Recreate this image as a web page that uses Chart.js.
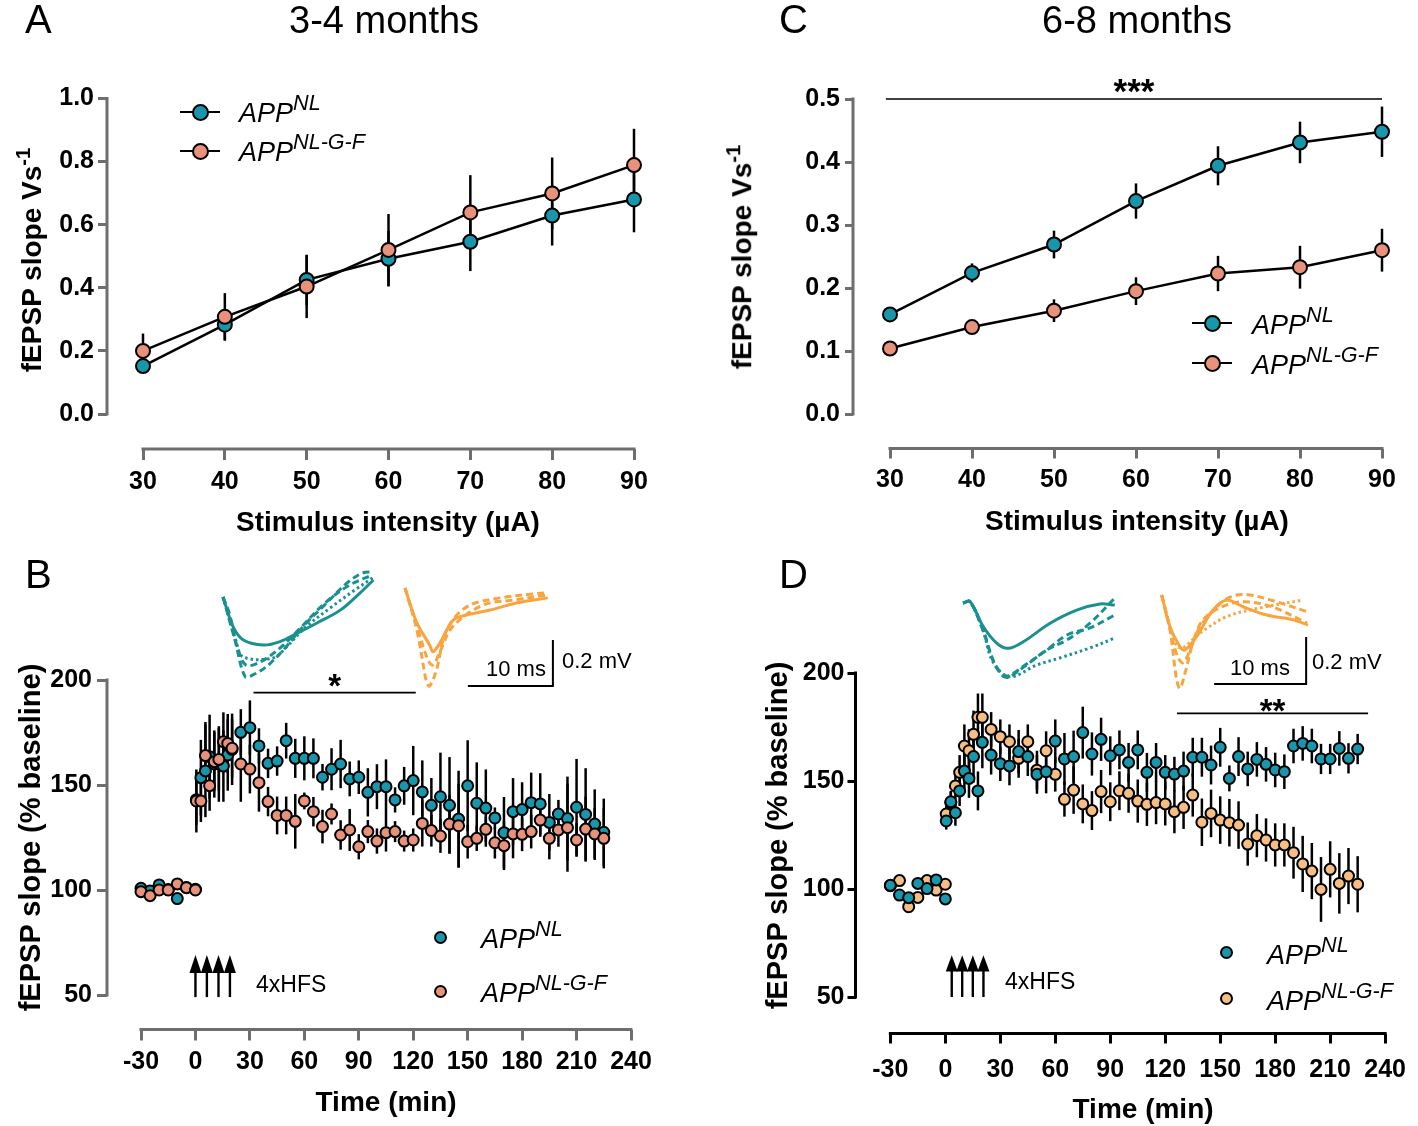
<!DOCTYPE html>
<html>
<head>
<meta charset="utf-8">
<script src="https://cdn.jsdelivr.net/npm/chart.js@4.4.1/dist/chart.umd.min.js"></script>
<style>
  body { margin: 0; background: #fff; }
  #fig { position: relative; width: 1418px; height: 1126px; overflow: hidden; font-family: 'Liberation Sans', Arial, Helvetica, sans-serif; }
  #fig canvas { position: absolute; }
  .t { position: absolute; white-space: nowrap; line-height: 1; color: #000; }
  .sup { font-size: 0.8em; position: relative; top: -0.54em; }
  .supt { font-size: 0.72em; position: relative; top: -0.55em; }
</style>
</head>
<body>
<div id="fig"></div>
<script>
// ---- input/output curves (panels A, C) ----
const intensity = [30, 40, 50, 60, 70, 80, 90]
const ioYoungNL = [0.152, 0.283, 0.425, 0.492, 0.546, 0.629, 0.680]
const ioYoungNLErr = [0.02, 0.05, 0.08, 0.088, 0.093, 0.095, 0.104]
const ioYoungGF = [0.200, 0.308, 0.404, 0.520, 0.639, 0.699, 0.789]
const ioYoungGFErr = [0.055, 0.075, 0.10, 0.114, 0.118, 0.114, 0.115]
const ioOldNL = [0.158, 0.224, 0.269, 0.338, 0.394, 0.431, 0.448]
const ioOldNLErr = [0.005, 0.015, 0.022, 0.028, 0.031, 0.033, 0.040]
const ioOldGF = [0.104, 0.138, 0.164, 0.195, 0.223, 0.233, 0.260]
const ioOldGFErr = [0.005, 0.011, 0.018, 0.022, 0.028, 0.034, 0.034]

// ---- LTP time course (panels B, D) ----
const timeMin = [-30, -25, -20, -15, -10, -5, 0, 0.5, 3, 5.5, 7.8, 10.4, 12.9, 15.4, 17.8, 20.2,
  25, 30, 35, 40, 45, 50, 55, 60, 65, 70, 75, 80, 85, 90, 95, 100, 105, 110, 115, 120, 125, 130,
  135, 140, 145, 150, 155, 160, 165, 170, 175, 180, 185, 190, 195, 200, 205, 210, 215, 220, 225]

const ltpYoungNL = [100.8, 99.5, 102.4, 100.2, 95.9, 101.2, 100.3, 143, 153.5, 156.7, 163.5, 160, 160, 159, 164.3, 167,
  175.1, 177.3, 168.6, 160.3, 161.4, 171.1, 162.7, 162.7, 162.7, 153.7, 157.5, 160, 152.9, 153.7, 146.5,
  149.2, 149.2, 142.9, 149.6, 152.1, 146.7, 140.3, 144.4, 140.3, 133.8, 149.6, 141.3, 139, 134.3, 127.3,
  137.3, 138.3, 141.6, 141, 132.2, 136.2, 134, 139.4, 136, 131.4, 127.5]
const ltpYoungNLErr = [2, 2, 2, 2, 2, 2, 2, 12, 18, 22, 20, 16, 18, 17, 17, 17,
  11, 13, 8.4, 7, 7, 8.5, 9.3, 10.5, 9.5, 6.3, 10, 11.5, 8.3, 8, 11.5,
  10.7, 13, 6, 9, 16.5, 15, 13, 21, 23, 23, 21.7, 19.5, 18.4, 5, 17, 16, 13, 14.3, 14.6, 13.5, 6.7, 20, 23, 22, 16.5, 16]
const ltpYoungGF = [99.2, 97.3, 100, 100, 102.9, 101.1, 100, 142.4, 142.4, 164, 149.7, 161.1, 162.2, 170.6, 169.8, 167.5,
  160, 157.6, 151.1, 142.1, 135.5, 135.5, 132.7, 142.4, 137.3, 130.2, 136.2, 126.2, 128.6, 120.6, 127.8,
  123.3, 127.3, 127.8, 123.3, 123.8, 131.7, 128.3, 125.7, 131.4, 130.6, 123, 124.6, 128.9, 122.5, 121.1,
  126.7, 126.5, 127.8, 133.3, 124.6, 128.6, 129.7, 123.8, 129, 126.7, 124.6]
const ltpYoungGFErr = [2, 2.5, 2, 2, 2, 2, 2, 15, 10, 16, 12, 14, 15, 14, 14, 14,
  18, 11.6, 13.8, 7, 9, 9, 13, 4, 7, 8, 5, 7, 10, 6, 5.5,
  6, 9, 5, 5, 5.5, 11, 7.6, 8, 14, 20, 8, 6, 6, 7.5, 11.6, 11.6, 8, 8, 8, 10, 8, 21, 8, 15.5, 12.4, 14.3]

const ltpOldNL = [101.7, 97.2, 96, 102.6, 100.2, 104.2, 95.4, 131.5, 140.4, 135.3, 145.4, 154.6, 151.2, 161.3, 145.4, 167.9,
  162, 158, 157, 163.6, 161.3, 153.1, 154.3, 168.5, 160.2, 161.3, 172.4, 162.5, 169.3, 161.7, 164.4,
  158.6, 164.4, 154, 158.6, 154, 153.2, 154.6, 161, 161, 157.4, 165.6, 151.2, 161.3, 155.6, 160,
  157.7, 155.1, 154.3, 166.2, 167.4, 166.2, 160.2, 160.2, 165.1, 160.5, 164.8]
const ltpOldNLErr = [2.5, 2, 2, 2, 2, 2, 2, 4, 5, 6, 7, 10, 9, 12, 9, 12,
  9, 8, 9, 10, 9, 9, 10, 10, 12, 12, 12, 10, 10, 9, 9,
  9, 9, 9, 9, 8, 8, 9, 9, 9, 9, 9, 6, 9, 8, 8, 8, 8, 8, 8, 8, 8, 7, 7, 8, 7, 7]
const ltpOldGF = [101.5, 103.9, 91.8, 96.1, 103.9, 99.5, 102.2, 134.7, 140, 147.7, 154, 166.2, 164, 171.6, 179.5, 179.5,
  173.9, 170.5, 168.2, 160.5, 168.2, 155, 164, 153.1, 141.5, 145.8, 139.4, 136.3, 145.1, 140.4, 145.5,
  144.3, 140.7, 139.2, 140, 139.4, 135.8, 137.8, 143.5, 130.9, 135, 131.9, 130.7, 129.6, 120.8, 124.7,
  122.7, 120.4, 120.4, 116.8, 111.6, 108.3, 99.8, 109.1, 102.6, 106, 102.2]
const ltpOldGFErr = [2.5, 2.5, 2.5, 2.5, 2.5, 2.5, 2.5, 4, 5, 6, 8, 10, 10, 11, 11, 11,
  8, 8, 8, 9, 8, 9, 9, 8, 8, 11, 9, 9, 10, 9, 9,
  9, 10, 10, 10, 10, 10, 10, 10, 11, 11, 11, 11, 11, 10, 10, 10, 10, 10, 12, 13, 13, 15, 13, 14, 13, 13]

// HFS train times (min) and significance bars [from, to, level]
const hfsYoung = [0, 6.3, 12.7, 19]
const hfsOld = [3.5, 9.2, 15, 20.8]
const sigC = [29.5, 90, 0.5]
const sigB = [32, 121.4, 194]
const sigD = [126.4, 230.7, 181.3]

// tick labels
const ioTicksX = [30, 40, 50, 60, 70, 80, 90]
const ioTicksYoung = [0, 0.2, 0.4, 0.6, 0.8, 1.0]
const ioTicksOld = [0, 0.1, 0.2, 0.3, 0.4, 0.5]
const timeTicks = [-30, 0, 30, 60, 90, 120, 150, 180, 210, 240]
const ltpTicks = [50, 100, 150, 200]

// example fEPSP traces, [ms, mV] from stimulus artefact
const trBNLsolid = [[0, 0], [1.2, -0.13], [2.4, -0.187], [4.75, -0.209], [6.7, -0.194], [8.7, -0.158], [11, -0.114], [13.8, -0.057], [16.1, 0.017], [17.7, 0.074]]
const trBNLdash = [[0, 0], [0.8, -0.078], [1.6, -0.216], [2.6, -0.346], [3.5, -0.339], [5.1, -0.303], [7.1, -0.23], [9.4, -0.129], [12.2, -0.026], [14.6, 0.061], [16.4, 0.104], [17.6, 0.109]]
const trBNLdot = [[0, 0], [1.5, -0.187], [2.35, -0.26], [5.9, -0.265], [7.5, -0.216], [9.6, -0.135], [12.6, -0.048], [15.5, 0.03], [17.6, 0.083]]
const trBNLdash2 = [[0, 0], [1.8, -0.23], [2.7, -0.296], [4.35, -0.283], [6.7, -0.222], [9.1, -0.135], [12, -0.026], [14.9, 0.052], [17.6, 0.096]]
const trBGFsolid = [[0, 0], [1.4, -0.152], [2.9, -0.248], [3.3, -0.277], [4.1, -0.239], [5.7, -0.139], [7.3, -0.117], [10, -0.096], [13.1, -0.065], [16.8, -0.043]]
const trBGFdash = [[0, 0], [1.4, -0.183], [2.55, -0.413], [2.9, -0.426], [3.7, -0.357], [4.9, -0.183], [7.3, -0.081], [11.2, -0.043], [15.1, -0.026], [16.8, -0.02]]
const trBGFdash2 = [[0, 0], [1.4, -0.165], [2.7, -0.313], [3.3, -0.335], [4.1, -0.278], [5.6, -0.168], [9.2, -0.074], [12.9, -0.052], [16.7, -0.03]]
const trDNLsolid = [[0, 0], [0.76, 0.006], [2.2, -0.1], [3.66, -0.171], [4.9, -0.193], [6.55, -0.165], [9.46, -0.086], [12.36, -0.03], [14.9, -0.004], [16.5, -0.009]]
const trDNLdash = [[0, 0], [0.76, 0.006], [2.17, -0.115], [3.26, -0.243], [4.2, -0.306], [4.9, -0.316], [6.9, -0.264], [9.1, -0.2], [11.3, -0.157], [13.8, -0.086], [16.5, 0.021]]
const trDNLdash2 = [[0, 0], [0.76, 0.006], [2.17, -0.115], [3.26, -0.243], [4.2, -0.3], [4.9, -0.31], [6.9, -0.26], [9.1, -0.2], [11.3, -0.136], [13.8, -0.106], [16.5, -0.051]]
const trDNLdot = [[0, 0], [0.76, 0.006], [2.17, -0.115], [3.26, -0.251], [5.1, -0.314], [8, -0.264], [10.5, -0.234], [13.8, -0.191], [16.5, -0.149]]
const trDGFsolid = [[0, 0], [0.9, -0.135], [2, -0.22], [2.53, -0.234], [3.8, -0.177], [5.58, -0.064], [7.07, -0.021], [8.84, -0.05], [11.4, -0.085], [14.3, -0.106], [15.9, -0.128]]
const trDGFdash = [[0, 0], [0.9, -0.149], [1.63, -0.362], [2, -0.397], [2.53, -0.332], [3.8, -0.162], [6, -0.05], [7.75, -0.004], [9.6, 0], [12.5, -0.029], [15.8, -0.071]]
const trDGFdash2 = [[0, 0], [0.9, -0.14], [1.66, -0.255], [2.3, -0.289], [3.1, -0.234], [4.5, -0.106], [7.75, -0.034], [11.4, -0.043], [15.8, -0.119]]
const trDGFdot = [[0, 0], [0.9, -0.135], [2, -0.226], [4.16, -0.162], [7.07, -0.092], [10.7, -0.055], [15.4, -0.021]]
// 10 ms / 0.2 mV scale bars
const scaleBarB = [[7.4, -0.426], [17.4, -0.426], [17.4, -0.226]]
const scaleBarD = [[5.7, -0.379], [15.7, -0.379], [15.7, -0.179]]

const W = 1418, H = 1126
const FONT = "'Liberation Sans', Arial, Helvetica, sans-serif"
const TEAL = '#1896ab'
const SALMON = '#e8917b'
const PEACH = '#f6be82'
const TR_TEAL = '#1a9090'
const TR_ORANGE = '#f8a540'
const GREY = '#6e6e6e'

Chart.defaults.font.family = FONT
Chart.defaults.color = '#000'

const fig = document.getElementById('fig')

function addCanvas(l, t, w, h) {
  const c = document.createElement('canvas')
  c.width = w
  c.height = h
  c.style.left = l + 'px'
  c.style.top = t + 'px'
  c.style.width = w + 'px'
  c.style.height = h + 'px'
  fig.appendChild(c)
  return c
}

// value at pixel p on a linear axis through (v0,p0) and (v1,p1)
const ext = (v0, p0, v1, p1, p) => v0 + (p - p0) * (v1 - v0) / (p1 - p0)

const errorBars = {
  id: 'errorBars',
  beforeDatasetsDraw(chart, args, opts) {
    const { ctx } = chart
    const y = chart.scales.y
    ctx.save()
    ctx.strokeStyle = '#000'
    ctx.lineWidth = opts.width || 2.5
    chart.data.datasets.forEach((ds, i) => {
      if (!ds.errors) return
      chart.getDatasetMeta(i).data.forEach((pt, j) => {
        const v = ds.data[j].y, e = ds.errors[j]
        ctx.beginPath()
        ctx.moveTo(pt.x, y.getPixelForValue(v - e))
        ctx.lineTo(pt.x, y.getPixelForValue(v + e))
        ctx.stroke()
      })
    })
    ctx.restore()
  }
}

// offset axis lines (GraphPad style) spanning first..last tick
const axisLines = {
  id: 'axisLines',
  afterDraw(chart, args, o) {
    const { ctx, chartArea } = chart
    const { x, y } = chart.scales
    ctx.save()
    ctx.strokeStyle = o.color
    ctx.lineWidth = 3
    ctx.lineCap = 'square'
    ctx.beginPath()
    ctx.moveTo(chartArea.left, y.getPixelForValue(o.y[0]))
    ctx.lineTo(chartArea.left, y.getPixelForValue(o.y[1]))
    ctx.moveTo(x.getPixelForValue(o.x[0]), chartArea.bottom)
    ctx.lineTo(x.getPixelForValue(o.x[1]), chartArea.bottom)
    ctx.stroke()
    ctx.restore()
  }
}

// significance bars and HFS arrows
const marks = {
  id: 'marks',
  afterDatasetsDraw(chart, args, o) {
    const { ctx } = chart
    const { x, y } = chart.scales
    ctx.save()
    ctx.strokeStyle = '#000'
    ctx.fillStyle = '#000'
    if (o.sig) {
      const [a, b, lvl] = o.sig.bar
      const x1 = x.getPixelForValue(a), x2 = x.getPixelForValue(b), py = y.getPixelForValue(lvl)
      ctx.lineWidth = 1.6
      ctx.beginPath()
      ctx.moveTo(x1, py)
      ctx.lineTo(x2, py)
      ctx.stroke()
      ctx.font = `bold ${o.sig.size}px ${FONT}`
      ctx.textAlign = 'center'
      ctx.textBaseline = 'alphabetic'
      ctx.fillText(o.sig.text, (x1 + x2) / 2, py - o.sig.lift + 0.57 * o.sig.size)
    }
    if (o.hfs) {
      const h = o.hfs
      const top = y.getPixelForValue(h.top), base = y.getPixelForValue(h.head), bot = y.getPixelForValue(h.bottom)
      h.times.forEach(t => {
        const px = x.getPixelForValue(t)
        ctx.beginPath()
        ctx.moveTo(px, top)
        ctx.lineTo(px + 6, base)
        ctx.lineTo(px - 6, base)
        ctx.closePath()
        ctx.fill()
        ctx.lineWidth = 2.4
        ctx.beginPath()
        ctx.moveTo(px, base - 1)
        ctx.lineTo(px, bot)
        ctx.stroke()
      })
    }
    ctx.restore()
  }
}

function panelChart(p) {
  const cv = addCanvas(0, 0, W, H)
  const a = p.area
  const xMin = ext(p.xA[0], p.xA[1], p.xB[0], p.xB[1], a.l)
  const yMin = ext(p.yA[0], p.yA[1], p.yB[0], p.yB[1], a.b)
  const tickFont = { family: FONT, size: p.fontSize, weight: 'bold' }
  return new Chart(cv, {
    type: 'scatter',
    data: { datasets: p.datasets },
    options: {
      responsive: false,
      animation: false,
      devicePixelRatio: 1,
      layout: { padding: { left: 0, top: a.t, right: W - a.r, bottom: H - a.b - 60 } },
      plugins: {
        legend: { display: false },
        tooltip: { enabled: false },
        errorBars: { width: 2.5 },
        axisLines: { color: p.axisColor, x: [p.xTicks[0], p.xTicks[p.xTicks.length - 1]], y: [p.yTicks[0], p.yTicks[p.yTicks.length - 1]] },
        marks: { sig: p.sig, hfs: p.hfs }
      },
      scales: {
        x: {
          type: 'linear',
          min: xMin,
          max: p.xB[0],
          afterBuildTicks: s => { s.ticks = p.xTicks.map(v => ({ value: v })) },
          afterFit: s => { s.height = 60 },
          border: { display: false },
          grid: { drawOnChartArea: false, drawTicks: true, tickLength: p.tickX, lineWidth: 3, color: p.axisColor },
          ticks: { font: tickFont, color: '#000', padding: p.padX, autoSkip: false, maxRotation: 0, callback: v => String(v) }
        },
        y: {
          type: 'linear',
          min: yMin,
          max: p.yB[0],
          afterBuildTicks: s => { s.ticks = p.yTicks.map(v => ({ value: v })) },
          afterFit: s => { s.width = a.l },
          border: { display: false },
          grid: { drawOnChartArea: false, drawTicks: true, tickLength: p.tickY, lineWidth: 3, color: p.axisColor },
          ticks: { font: tickFont, color: '#000', padding: p.padY, callback: p.fmtY }
        }
      }
    },
    plugins: [errorBars, axisLines, marks]
  })
}

const ioSet = (vals, errs, color, order) => ({
  type: 'line',
  data: intensity.map((x, i) => ({ x, y: vals[i] })),
  errors: errs,
  borderColor: '#000',
  borderWidth: 2.5,
  pointRadius: 7,
  pointBorderWidth: 2,
  pointBackgroundColor: color,
  pointBorderColor: '#000',
  clip: false,
  order
})

const ltpSet = (vals, errs, color, order) => ({
  data: timeMin.map((x, i) => ({ x, y: vals[i] })),
  errors: errs,
  showLine: false,
  pointRadius: 5.5,
  pointBorderWidth: 2,
  pointBackgroundColor: color,
  pointBorderColor: '#000',
  clip: false,
  order
})

// Panel A
panelChart({
  area: { l: 107, t: 98.5, r: 634, b: 449 },
  xA: [30, 143], xB: [90, 634], yA: [0, 414], yB: [1, 98.5],
  xTicks: ioTicksX, yTicks: ioTicksYoung, fmtY: v => v.toFixed(1),
  fontSize: 25, tickX: 11, tickY: 9, padX: 7, padY: 4, axisColor: GREY,
  datasets: [ioSet(ioYoungNL, ioYoungNLErr, TEAL, 1), ioSet(ioYoungGF, ioYoungGFErr, SALMON, 0)]
})

// Panel C
panelChart({
  area: { l: 853, t: 99, r: 1382, b: 448.5 },
  xA: [30, 890], xB: [90, 1382], yA: [0, 414], yB: [0.5, 99],
  xTicks: ioTicksX, yTicks: ioTicksOld, fmtY: v => v.toFixed(1),
  fontSize: 25, tickX: 10, tickY: 8, padX: 7, padY: 5, axisColor: GREY,
  sig: { bar: sigC, text: '***', size: 35, lift: 16 },
  datasets: [ioSet(ioOldNL, ioOldNLErr, TEAL, 1), ioSet(ioOldGF, ioOldGFErr, SALMON, 0)]
})

// Panel B
panelChart({
  area: { l: 107, t: 680, r: 631, b: 1029.5 },
  xA: [-30, 141], xB: [240, 631], yA: [50, 995], yB: [200, 680],
  xTicks: timeTicks, yTicks: ltpTicks, fmtY: v => String(v),
  fontSize: 25, tickX: 11, tickY: 10, padX: 7, padY: 5, axisColor: GREY,
  sig: { bar: sigB, text: '*', size: 33, lift: 14 },
  hfs: { times: hfsYoung, top: 69, head: 60.5, bottom: 49 },
  datasets: [ltpSet(ltpYoungNL, ltpYoungNLErr, TEAL, 1), ltpSet(ltpYoungGF, ltpYoungGFErr, SALMON, 0)]
})

// Panel D
panelChart({
  area: { l: 855.5, t: 673, r: 1395, b: 1033.5 },
  xA: [-30, 891], xB: [240, 1395], yA: [50, 997], yB: [200, 673],
  xTicks: timeTicks, yTicks: ltpTicks, fmtY: v => String(v),
  fontSize: 25, tickX: 10, tickY: 8, padX: 12, padY: 3, axisColor: '#000',
  sig: { bar: sigD, text: '**', size: 33, lift: 10 },
  hfs: { times: hfsOld, top: 69.3, head: 61.8, bottom: 50 },
  datasets: [ltpSet(ltpOldNL, ltpOldNLErr, TEAL, 0), ltpSet(ltpOldGF, ltpOldGFErr, PEACH, 1)]
})

// ---- trace insets ----
function traceChart(box, origin, pxMs, pxMv, sets) {
  const cv = addCanvas(box.l, box.t, box.w, box.h)
  return new Chart(cv, {
    type: 'scatter',
    data: {
      datasets: sets.map(s => ({
        data: s.pts.map(([x, y]) => ({ x, y })),
        showLine: true,
        borderColor: s.color,
        borderWidth: s.width || 3,
        borderDash: s.dash || [],
        pointRadius: 0,
        tension: s.tension === undefined ? 0.35 : s.tension,
        clip: false
      }))
    },
    options: {
      responsive: false,
      animation: false,
      devicePixelRatio: 1,
      layout: { padding: 0 },
      plugins: { legend: { display: false }, tooltip: { enabled: false } },
      scales: {
        x: { display: false, min: (box.l - origin.x) / pxMs, max: (box.l + box.w - origin.x) / pxMs },
        y: { display: false, min: (origin.y - box.t - box.h) / pxMv, max: (origin.y - box.t) / pxMv }
      }
    }
  })
}

const DASH = [7, 4], DOT = [2.5, 3]
traceChart({ l: 212, t: 560, w: 170, h: 130 }, { x: 223, y: 597 }, 8.5, 230, [
  { pts: trBNLsolid, color: TR_TEAL },
  { pts: trBNLdash, color: TR_TEAL, dash: DASH },
  { pts: trBNLdot, color: TR_TEAL, dash: DOT },
  { pts: trBNLdash2, color: TR_TEAL, dash: DASH }
])
traceChart({ l: 395, t: 575, w: 170, h: 125 }, { x: 405, y: 588 }, 8.5, 230, [
  { pts: trBGFsolid, color: TR_ORANGE },
  { pts: trBGFdash, color: TR_ORANGE, dash: DASH },
  { pts: trBGFdash2, color: TR_ORANGE, dash: DASH },
  { pts: scaleBarB, color: '#000', width: 2, tension: 0 }
])
traceChart({ l: 955, t: 585, w: 170, h: 105 }, { x: 963, y: 603 }, 9.2, 235, [
  { pts: trDNLsolid, color: TR_TEAL },
  { pts: trDNLdash, color: TR_TEAL, dash: DASH },
  { pts: trDNLdash2, color: TR_TEAL, dash: DASH },
  { pts: trDNLdot, color: TR_TEAL, dash: DOT }
])
traceChart({ l: 1150, t: 580, w: 170, h: 120 }, { x: 1161.7, y: 595 }, 9.2, 235, [
  { pts: trDGFsolid, color: TR_ORANGE },
  { pts: trDGFdash, color: TR_ORANGE, dash: DASH },
  { pts: trDGFdash2, color: TR_ORANGE, dash: DASH },
  { pts: trDGFdot, color: TR_ORANGE, dash: DOT },
  { pts: scaleBarD, color: '#000', width: 2, tension: 0 }
])

// ---- text ----
function label(html, x, y, size, o = {}) {
  const d = document.createElement('div')
  d.className = 't'
  d.innerHTML = html
  d.style.fontSize = size + 'px'
  d.style.fontWeight = o.bold ? 'bold' : 'normal'
  d.style.fontStyle = o.italic ? 'italic' : 'normal'
  fig.appendChild(d)
  const w = d.offsetWidth
  const asc = 0.8465 * size
  if (o.rot) {
    // x = baseline position, y = centre along the text
    const cx = x - (asc - size / 2)
    d.style.left = (cx - w / 2) + 'px'
    d.style.top = (y - size / 2) + 'px'
    d.style.transform = 'rotate(-90deg)'
  } else {
    const al = o.align || 'left'
    d.style.left = (al === 'center' ? x - w / 2 : al === 'right' ? x - w : x) + 'px'
    d.style.top = (y - asc) + 'px'
  }
  return d
}

function legendKey(x, y, color, d, withLine) {
  if (withLine) {
    const l = document.createElement('div')
    l.style.cssText = `position:absolute;left:${x - 20}px;top:${y - 1.25}px;width:40px;height:2.5px;background:#000`
    fig.appendChild(l)
  }
  const c = document.createElement('div')
  c.style.cssText = `position:absolute;left:${x - d / 2}px;top:${y - d / 2}px;width:${d}px;height:${d}px;box-sizing:border-box;border:2px solid #000;border-radius:50%;background:${color}`
  fig.appendChild(c)
}

const NL = 'APP<span class="sup">NL</span>'
const NLGF = 'APP<span class="sup">NL-G-F</span>'

label('A', 25, 33, 40)
label('C', 779, 33, 40)
label('B', 25, 588, 40)
label('D', 779, 588, 40)
label('3-4 months', 384, 33, 38, { align: 'center' })
label('6-8 months', 1137, 33, 38, { align: 'center' })

label('Stimulus intensity (µA)', 388, 532, 28, { bold: true, align: 'center' })
label('Stimulus intensity (µA)', 1137, 531, 28, { bold: true, align: 'center' })
label('Time (min)', 386, 1112, 28, { bold: true, align: 'center' })
label('Time (min)', 1143, 1119, 28, { bold: true, align: 'center' })
label('fEPSP slope Vs<span class="supt">-1</span>', 42, 260, 28, { bold: true, rot: true })
label('fEPSP slope Vs<span class="supt">-1</span>', 752, 257, 28, { bold: true, rot: true })
label('fEPSP slope (% baseline)', 41, 837, 29, { bold: true, rot: true })
label('fEPSP slope (% baseline)', 788, 835, 29, { bold: true, rot: true })

legendKey(200, 112, TEAL, 17, true)
legendKey(200, 151, SALMON, 17, true)
label(NL, 239, 123, 27, { italic: true })
label(NLGF, 239, 162, 27, { italic: true })
legendKey(1212, 323, TEAL, 17, true)
legendKey(1212, 363, SALMON, 17, true)
label(NL, 1252, 335, 27, { italic: true })
label(NLGF, 1252, 375, 27, { italic: true })

legendKey(440, 937, TEAL, 13, false)
legendKey(440, 991, SALMON, 13, false)
label(NL, 481, 949, 27, { italic: true })
label(NLGF, 481, 1003, 27, { italic: true })
legendKey(1226, 952, TEAL, 13, false)
legendKey(1226, 998, PEACH, 13, false)
label(NL, 1267, 965, 27, { italic: true })
label(NLGF, 1267, 1011, 27, { italic: true })

label('4xHFS', 256, 992, 23)
label('4xHFS', 1005, 989, 23)
label('10 ms', 546, 677, 22, { align: 'right' })
label('0.2 mV', 562, 669, 22)
label('10 ms', 1290, 676, 22, { align: 'right' })
label('0.2 mV', 1312, 670, 22)
</script>
</body>
</html>
